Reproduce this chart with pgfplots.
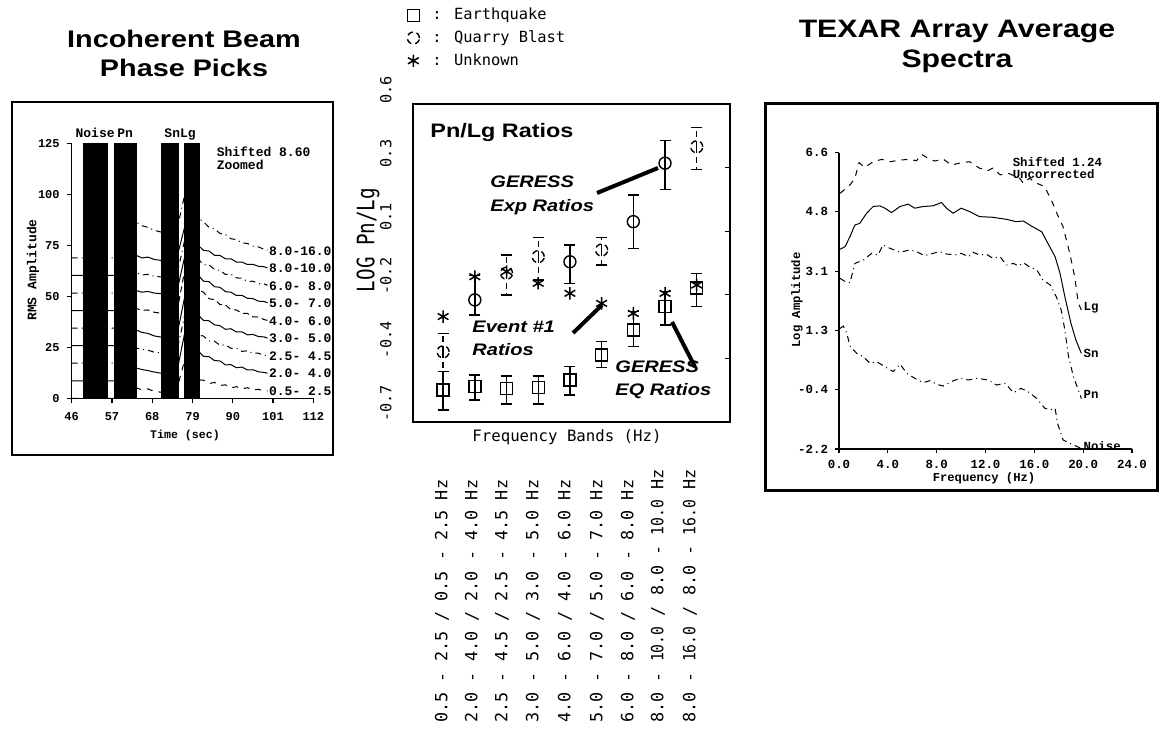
\documentclass[border=0pt]{standalone}
\usepackage{fontspec}
\usepackage{graphicx}
\usepackage{pgfplots}
\pgfplotsset{compat=1.18}
\setmainfont{Liberation Sans}
\newfontfamily\titlefont[FakeStretch=1.2]{Liberation Sans}
\newfontfamily\typer{Liberation Mono}
\newfontfamily\plotter{DejaVu Sans Mono}
\newfontfamily\plottertall[FakeStretch=0.8]{DejaVu Sans Mono}
\newcommand\fs[2]{\fontsize{#1}{#2}\selectfont}
\newcommand\nar[1]{\scalebox{0.88}[1]{#1}}
\begin{document}
\begin{tikzpicture}
\path[use as bounding box] (0,0) rectangle (579.5pt,370pt);

% ================= LEFT PANEL =================
\begin{axis}[at={(35.85pt,170.85pt)}, anchor=south west, scale only axis,
  width=120.8pt, height=127.5pt,
  xmin=46, xmax=112, ymin=0, ymax=125, axis lines*=left,
  xtick={46,57,68,79,90,101,112}, xticklabels={46,57,68,79,90,101,112},
  ytick={0,25,50,75,100,125}, yticklabels={0,25,50,75,100,125},
  tick align=outside, major tick length=2.5pt,
  tick style={line width=0.6pt, black},
  axis line style={line width=0.7pt},
  ticklabel style={font=\typer\bfseries\fs{6}{7}},
  xticklabel style={yshift=-1pt},
  clip=false]
\addplot[black, line width=0.5pt, dashed] coordinates {(46,0)(63.2,0)(63.7,5.0)(65.2,4.2)(66.8,4.6)(68.5,3.4)(70.4,3.0)(75.1,7.0)(76.9,19)(80.8,9.0)(82,8.9)(83.5,7.2)(85,7.8)(86.5,6.3)(88,6.6)(89.5,5.1)(91,5.7)(92.5,4.6)(94,5.2)(95.5,4.1)(97,4.4)(98.5,3.6)(99.5,3.6)};
\addplot[black, line width=0.5pt] coordinates {(46,8.6)(63.2,8.6)(63.7,14.8)(65.2,14.1)(66.8,13.6)(68.5,12.9)(70.4,12.3)(75.1,16.3)(76.9,32.2)(80.8,22.7)(82,20.6)(83.5,20.4)(85,18.5)(86.5,18.3)(88,16.4)(89.5,16.5)(91,15.0)(92.5,15.3)(94,13.9)(95.5,14.0)(97,13.0)(98.5,12.7)(99.5,12.3)};
\addplot[black, line width=0.5pt, dashdotted] coordinates {(46,17.2)(63.2,17.2)(63.7,24.6)(65.2,24.0)(66.8,23.6)(68.5,22.6)(70.4,22.2)(75.1,26.2)(76.9,41.0)(80.8,31.0)(82,30.5)(83.5,28.1)(85,28.0)(86.5,26.0)(88,26.2)(89.5,24.5)(91,24.5)(92.5,23.0)(94,23.3)(95.5,22.1)(97,22.1)(98.5,21.1)(99.5,20.9)};
\addplot[black, line width=0.5pt] coordinates {(46,25.8)(63.2,25.8)(63.7,33.4)(65.2,32.3)(66.8,31.8)(68.5,30.6)(70.4,30.0)(75.1,34.0)(76.9,50.0)(80.8,40.4)(82,38.2)(83.5,38.0)(85,36.0)(86.5,35.6)(88,33.8)(89.5,34.1)(91,32.5)(92.5,32.6)(94,31.1)(95.5,31.3)(97,30.3)(98.5,30.1)(99.5,29.5)};
\addplot[black, line width=0.5pt, densely dashed] coordinates {(46,34.4)(63.2,34.4)(63.7,44.0)(65.2,43.1)(66.8,43.3)(68.5,42.2)(70.4,41.7)(75.1,45.7)(76.9,63.0)(80.8,53.0)(82,52.0)(83.5,48.8)(85,48.4)(86.5,46.0)(88,45.8)(89.5,43.4)(91,43.3)(92.5,41.7)(94,41.6)(95.5,39.9)(97,39.9)(98.5,38.6)(99.5,38.2)};
\addplot[black, line width=0.5pt] coordinates {(46,43.0)(63.2,43.0)(63.7,52.8)(65.2,52.0)(66.8,52.4)(68.5,51.6)(70.4,51.3)(75.1,55.3)(76.9,69.6)(80.8,59.9)(82,57.4)(83.5,57.2)(85,54.7)(86.5,54.4)(88,52.3)(89.5,52.0)(91,50.4)(92.5,50.5)(94,49.0)(95.5,48.9)(97,47.6)(98.5,47.5)(99.5,46.8)};
\addplot[black, line width=0.5pt, dashdotted] coordinates {(46,51.6)(63.2,51.6)(63.7,61.5)(65.2,60.4)(66.8,60.8)(68.5,59.8)(70.4,59.5)(75.1,63.5)(76.9,77.8)(80.8,67.8)(82,65.5)(83.5,65.4)(85,63.2)(86.5,62.7)(88,60.7)(89.5,60.8)(91,59.0)(92.5,58.9)(94,57.3)(95.5,57.4)(97,56.3)(98.5,56.1)(99.5,55.4)};
\addplot[black, line width=0.5pt] coordinates {(46,60.2)(63.2,60.2)(63.7,70.0)(65.2,68.8)(66.8,69.2)(68.5,68.1)(70.4,67.6)(75.1,71.6)(76.9,84.2)(80.8,74.6)(82,72.5)(83.5,72.2)(85,70.1)(86.5,70.0)(88,68.4)(89.5,68.4)(91,66.8)(92.5,66.8)(94,65.6)(95.5,65.7)(97,64.7)(98.5,64.5)(99.5,63.9)};
\addplot[black, line width=0.5pt, dashdotted] coordinates {(46,68.8)(63.2,68.8)(63.7,86.3)(65.2,84.6)(66.8,83.8)(68.5,82.4)(70.4,81.5)(75.1,85.5)(76.9,100)(80.8,88.0)(82,86.6)(83.5,83.8)(85,83.1)(86.5,80.8)(88,80.3)(89.5,78.2)(91,77.8)(92.5,76.2)(94,75.9)(95.5,74.6)(97,74.2)(98.5,73.1)(99.5,72.6)};
% phase windows
\addplot[fill=black, draw=black] coordinates {(49.1,125)(55.7,125)} \closedcycle;
\addplot[fill=black, draw=black] coordinates {(57.8,125)(63.7,125)} \closedcycle;
\addplot[fill=black, draw=black] coordinates {(70.4,125)(75.1,125)} \closedcycle;
\addplot[fill=black, draw=black] coordinates {(76.7,125)(80.8,125)} \closedcycle;
\begin{scope}[every node/.style={font=\typer\bfseries\fs{6.5}{7.5}, inner sep=0.6pt}]
\node[anchor=west] at (axis cs:99.5,72.3) {8.0-16.0};
\node[anchor=west] at (axis cs:99.5,63.7) {8.0-10.0};
\node[anchor=west] at (axis cs:99.5,55.1) {6.0- 8.0};
\node[anchor=west] at (axis cs:99.5,46.5) {5.0- 7.0};
\node[anchor=west] at (axis cs:99.5,37.9) {4.0- 6.0};
\node[anchor=west] at (axis cs:99.5,29.3) {3.0- 5.0};
\node[anchor=west] at (axis cs:99.5,20.7) {2.5- 4.5};
\node[anchor=west] at (axis cs:99.5,12.1) {2.0- 4.0};
\node[anchor=west] at (axis cs:99.5,3.5) {0.5- 2.5};
\node[anchor=base] at (axis cs:52.4,127.6) {Noise};
\node[anchor=base] at (axis cs:60.6,127.6) {Pn};
\node[anchor=base] at (axis cs:75.6,127.6) {SnLg};
\node[anchor=west] at (axis cs:85.2,120.7) {Shifted 8.60};
\node[anchor=west] at (axis cs:85.2,114.3) {Zoomed};
\end{scope}
\end{axis}

% ================= MIDDLE PANEL =================
\begin{axis}[at={(206.5pt,159pt)}, anchor=south west, scale only axis,
  width=158.5pt, height=159pt,
  xmin=0.05, xmax=10.05, ymin=-0.7, ymax=0.6,
  xtick=\empty, ytick={-0.7,-0.44,-0.18,0.08,0.34,0.6}, yticklabels={},
  ytick pos=right, tick align=inside, major tick length=2.5pt,
  tick style={line width=0.6pt, black},
  axis line style={line width=0.9pt},
  clip=false,
  legend style={at={(rel axis cs:-0.019,1.316)}, anchor=north west, draw=none, fill=none,
    inner sep=0pt, font=\plotter\fs{7.7}{9.3}, row sep=0pt},
  legend cell align=left]
\addplot[black, only marks, mark=square, mark size=3pt, mark options={line width=0.7pt},
  error bars/.cd, y dir=both, y explicit,
  error bar style={line width=0.7pt},
  error mark options={rotate=90, mark size=2.75pt, line width=0.7pt}]
  coordinates {
  (1,-0.569) += (0,0.075) -= (0,0.082)
  (2,-0.556) += (0,0.048) -= (0,0.054)
  (3,-0.562) += (0,0.050) -= (0,0.064)
  (4,-0.560) += (0,0.048) -= (0,0.066)
  (5,-0.528) += (0,0.054) -= (0,0.062)
  (6,-0.426) += (0,0.054) -= (0,0.050)
  (7,-0.324) += (0,0.075) -= (0,0.068)
  (8,-0.229) += (0,0.062) -= (0,0.074)
  (9,-0.153) += (0,0.061) -= (0,0.076)
  };
\addlegendentry{\hspace{4.5pt}: Earthquake}
\addplot[black, only marks, mark=o, mark size=3pt, mark options={densely dashed, line width=0.7pt},
  error bars/.cd, y dir=both, y explicit,
  error bar style={densely dashed, line width=0.7pt},
  error mark options={rotate=90, mark size=2.75pt, line width=0.7pt, solid}]
  coordinates {
  (1,-0.413) += (0,0.076) -= (0,0.081)
  (3,-0.092) += (0,0.075) -= (0,0.089)
  (4,-0.024) += (0,0.079) -= (0,0.096)
  (6,0.003) += (0,0.052) -= (0,0.061)
  (9,0.425) += (0,0.080) -= (0,0.092)
  };
\addlegendentry{\hspace{4.5pt}: Quarry Blast}
\addplot[black, only marks, mark=o, mark size=3pt, mark options={line width=0.7pt}, forget plot,
  error bars/.cd, y dir=both, y explicit,
  error bar style={line width=0.7pt},
  error mark options={rotate=90, mark size=2.75pt, line width=0.7pt}]
  coordinates {
  (2,-0.201) += (0,0.100) -= (0,0.062)
  (5,-0.045) += (0,0.069) -= (0,0.088)
  (7,0.119) += (0,0.109) -= (0,0.109)
  (8,0.358) += (0,0.092) -= (0,0.107)
  };
\addplot[black, only marks, mark=asterisk, mark size=3.1pt, mark options={line width=0.75pt}]
  coordinates {(1,-0.269)(2,-0.106)(3,-0.085)(4,-0.133)(5,-0.174)(6,-0.215)(7,-0.256)(8,-0.174)(9,-0.140)};
\addlegendentry{\hspace{4.5pt}: Unknown}
\end{axis}

% ================= RIGHT PANEL =================
\begin{axis}[at={(419.5pt,145.5pt)}, anchor=south west, scale only axis,
  width=146.5pt, height=148.2pt,
  xmin=0, xmax=24, ymin=-2.2, ymax=6.6, axis lines*=left,
  xtick={0,4,8,12,16,20,24}, xticklabels={0.0,4.0,8.0,12.0,16.0,20.0,24.0},
  ytick={-2.2,-0.44,1.32,3.08,4.84,6.6}, yticklabels={-2.2,-0.4,1.3,3.1,4.8,6.6},
  tick align=outside, major tick length=2pt,
  tick style={line width=0.6pt, black},
  axis line style={line width=0.7pt},
  ticklabel style={font=\typer\bfseries\fs{6.2}{7}},
  clip=false]
\addplot[black, line width=0.5pt, dashed] coordinates {(0.08,5.39)(0.9,5.64)(1.3,5.84)(1.64,6.30)(2.1,6.16)(2.8,6.33)(3.5,6.40)(4.2,6.33)(5.0,6.38)(5.8,6.40)(6.35,6.36)(6.76,6.55)(7.3,6.43)(7.85,6.35)(8.54,6.41)(9.2,6.23)(10.0,6.30)(10.7,6.33)(11.5,6.14)(12.2,6.07)(12.6,6.14)(13.2,5.94)(13.85,5.99)(14.8,5.84)(15.1,5.69)(15.6,5.84)(16.2,5.69)(16.85,5.59)(17.5,5.10)(17.9,4.75)(18.35,4.40)(18.9,3.61)(19.3,2.92)(19.6,2.13)(19.85,1.93)};
\addplot[black, line width=0.5pt] coordinates {(0.08,3.73)(0.5,3.81)(0.9,4.11)(1.3,4.45)(1.7,4.50)(2.26,4.80)(2.8,5.00)(3.35,5.02)(3.76,4.95)(4.3,4.82)(5.0,5.00)(5.67,5.07)(6.2,4.95)(6.9,5.00)(7.7,5.02)(8.4,5.12)(8.8,4.95)(9.35,4.80)(10.0,4.95)(10.7,4.85)(11.5,4.70)(12.6,4.68)(13.7,4.62)(14.5,4.55)(15.1,4.57)(15.76,4.42)(16.6,4.25)(17.1,3.91)(17.7,3.51)(18.1,3.02)(18.5,2.32)(19.0,1.53)(19.4,1.04)(19.85,0.64)};
\addplot[black, line width=0.5pt, dashdotted] coordinates {(0.08,2.87)(0.5,2.77)(0.9,2.74)(1.3,3.31)(2.0,3.41)(2.67,3.61)(3.2,3.56)(3.6,3.86)(4.17,3.76)(5.0,3.64)(5.8,3.71)(6.35,3.66)(7.0,3.54)(7.7,3.61)(8.26,3.66)(8.8,3.59)(9.5,3.56)(10.0,3.61)(10.6,3.51)(11.0,3.64)(11.5,3.56)(12.1,3.58)(12.6,3.46)(13.2,3.51)(13.7,3.26)(14.3,3.31)(14.7,3.23)(15.1,3.33)(15.6,3.21)(16.2,3.12)(16.7,2.82)(17.3,2.67)(17.8,2.32)(18.2,1.93)(18.5,1.33)(18.8,0.54)(19.2,-0.05)(19.6,-0.45)(19.85,-0.70)};
\addplot[black, line width=0.5pt, dashdotted] coordinates {(0.08,1.38)(0.35,1.45)(0.63,1.25)(0.9,0.86)(1.45,0.64)(2.0,0.54)(2.54,0.34)(3.1,0.39)(3.76,0.24)(4.45,0.10)(5.0,0.32)(5.54,0.05)(6.2,-0.10)(6.9,-0.23)(7.45,-0.17)(8.0,-0.28)(8.54,-0.33)(9.2,-0.20)(9.9,-0.10)(10.6,-0.15)(11.3,-0.10)(12.2,-0.15)(12.9,-0.30)(13.6,-0.25)(14.3,-0.53)(14.9,-0.40)(15.5,-0.50)(16.2,-0.70)(16.85,-0.99)(17.3,-1.04)(17.7,-0.99)(17.9,-1.44)(18.35,-1.93)(19.0,-2.05)(19.85,-2.18)};
\begin{scope}[every node/.style={font=\typer\bfseries\fs{6.2}{7}, inner sep=0.6pt}]
\node[anchor=west] at (axis cs:19.9,1.99) {Lg};
\node[anchor=west] at (axis cs:19.9,0.65) {Sn};
\node[anchor=west] at (axis cs:19.9,-0.57) {Pn};
\node[anchor=west] at (axis cs:19.9,-2.10) {Noise};
\node[anchor=west] at (axis cs:14.1,6.32) {Shifted 1.24};
\node[anchor=west] at (axis cs:14.1,5.97) {Uncorrected};
\end{scope}
\end{axis}

% ================= TEXT AND FRAMES (pixel units) =================
\begin{scope}[x=0.5pt, y=0.5pt]
% frames
\draw[line width=1.1pt] (12,638) rectangle (333,285);
\draw[line width=1.5pt] (765,636) rectangle (1157,250);
% titles
\node[font=\titlefont\bfseries\fs{12}{14}, anchor=base] at (184,692) {Incoherent Beam};
\node[font=\titlefont\bfseries\fs{12}{14}, anchor=base] at (184,663) {Phase Picks};
\node[font=\titlefont\bfseries\fs{12.6}{14}, anchor=base] at (957,702) {TEXAR Array Average};
\node[font=\titlefont\bfseries\fs{12.6}{14}, anchor=base] at (957,672) {Spectra};
% left axis labels
\node[font=\typer\bfseries\fs{6.5}{7.5}, rotate=90] at (33,470) {RMS Amplitude};
\node[font=\typer\bfseries\fs{5.8}{7}] at (185,305) {Time (sec)};
% right axis labels
\node[font=\typer\bfseries\fs{6.1}{7}, rotate=90] at (797,440) {Log Amplitude};
\node[font=\typer\bfseries\fs{6.1}{7}] at (984,262) {Frequency (Hz)};
% middle panel text
\node[font=\titlefont\bfseries\fs{9.75}{11}, anchor=base west, inner sep=0pt] at (430,602) {Pn/Lg Ratios};
\begin{scope}[every node/.style={font=\titlefont\bfseries\itshape\fs{8.35}{10}, anchor=base west, inner sep=0pt}]
\node at (490,552) {GERESS};
\node at (490,528) {Exp Ratios};
\node at (472,408) {Event \#1};
\node at (472,385) {Ratios};
\node at (615,368) {GERESS};
\node at (615,345) {EQ Ratios};
\end{scope}
\draw[line width=2pt] (597,547) -- (658,572);
\draw[line width=2pt] (573,407) -- (602,435);
\draw[line width=2pt] (672,418) -- (695,373);
\node[font=\plottertall\fs{12}{14}, rotate=90] at (368,500) {LOG Pn/Lg};
\begin{scope}[every node/.style={font=\plotter\fs{7.6}{9}, rotate=90, anchor=south west, inner sep=0pt}]
\node at (392,636) {0.6};
\node at (392,572.4) {0.3};
\node at (392,508.8) {0.1};
\node at (392,445.2) {-0.2};
\node at (392,381.6) {-0.4};
\node at (392,318) {-0.7};
\end{scope}
\node[font=\plotter\fs{7.85}{9}, anchor=base] at (567,299) {Frequency Bands (Hz)};
\begin{scope}[every node/.style={font=\plotter\fs{8.4}{10}, rotate=90, anchor=west, inner sep=0pt}]
\node at (442,17) {0.5 - 2.5 / 0.5 - 2.5 Hz};
\node at (472,17) {2.0 - 4.0 / 2.0 - 4.0 Hz};
\node at (502,17) {2.5 - 4.5 / 2.5 - 4.5 Hz};
\node at (533,17) {3.0 - 5.0 / 3.0 - 5.0 Hz};
\node at (565,17) {4.0 - 6.0 / 4.0 - 6.0 Hz};
\node at (597,17) {5.0 - 7.0 / 5.0 - 7.0 Hz};
\node at (628,17) {6.0 - 8.0 / 6.0 - 8.0 Hz};
\node at (658,17) {8.0 - \nar{10.0} / 8.0 - \nar{10.0} Hz};
\node at (690,17) {8.0 - \nar{16.0} / 8.0 - \nar{16.0} Hz};
\end{scope}
\end{scope}
\end{tikzpicture}
\end{document}
